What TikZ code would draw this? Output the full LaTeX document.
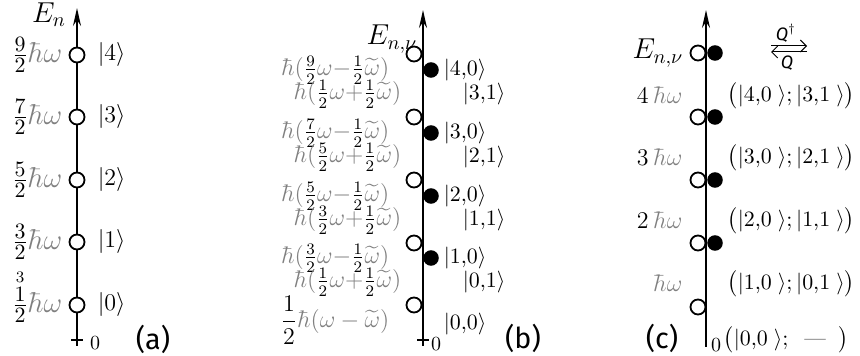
\documentclass[tikz,border=0pt]{standalone}
\usepackage{amsmath}
\usepackage{fontspec}
\newfontfamily\tagfont{Fira Sans}
\usetikzlibrary{positioning,arrows.meta}
\tikzset{every picture/.style={line width=0.75pt}}
\newcommand{\gr}[1]{\textcolor{black!50}{#1}}
\tikzset{
  axis/.style={->, line width=1pt},
  open/.style={circle, draw, fill=white, inner sep=0pt, minimum size=7.5pt, line width=0.9pt},
  full/.style={circle, draw, fill=black, inner sep=0pt, minimum size=7pt},
  lvl/.style={anchor=east, font=\large, inner sep=0pt},
  ket/.style={anchor=west, inner sep=0pt, font=\fontsize{11}{13}\selectfont},
  pair/.style={anchor=west, inner sep=0pt, font=\fontsize{11}{13}\selectfont},
  tag/.style={font=\tagfont\Large},
}

\begin{document}
\begin{tikzpicture}[>={Stealth[length=9pt, width=4pt, inset=3pt]}, x=0.5pt, y=-0.5pt]
    \useasboundingbox (0,0) rectangle (860,356);
    % (a) oscilador
    \coordinate (a0) at (77,346);
    \coordinate (aT) at (77,8);
    \draw[axis] (a0) -- (aT);
    \draw (71,340) -- (83,340);
    \node[open] (a4) at (77,55)  {};
    \node[open] (a3) at (77,117) {};
    \node[open] (a2) at (77,180) {};
    \node[open] (a1) at (77,242) {};
    \node[open] (a0c) at (77,305) {};
    \node at (49,15) {\Large $E_n$};
    \node[lvl, font=\fontsize{15}{17}\selectfont] at (63,55)  {$\tfrac92\gr{\hbar\omega}$};
    \node[lvl, font=\fontsize{15}{17}\selectfont] at (63,117) {$\tfrac72\gr{\hbar\omega}$};
    \node[lvl, font=\fontsize{15}{17}\selectfont] at (63,180) {$\tfrac52\gr{\hbar\omega}$};
    \node[lvl, font=\fontsize{15}{17}\selectfont] at (63,242) {$\tfrac32\gr{\hbar\omega}$};
    \node[lvl, font=\fontsize{15}{17}\selectfont] at (63,305) {$\tfrac12\gr{\hbar\omega}$};
    \node[font=\footnotesize] at (20,277) {3};
    \node[ket, font=\large] at (97,55)  {$|4\rangle$};
    \node[ket, font=\large] at (97,117) {$|3\rangle$};
    \node[ket, font=\large] at (97,180) {$|2\rangle$};
    \node[ket, font=\large] at (97,242) {$|1\rangle$};
    \node[ket, font=\large] at (97,305) {$|0\rangle$};
    \node at (95,343) {0};
    \node[tag] at (153,339) {(a)};
    % (b) niveis desdobrados
    \coordinate (b0) at (423,346);
    \coordinate (bT) at (423,10);
    \draw[axis] (b0) -- (bT);
    \draw (417,340) -- (429,340);
    \node[open] (bo4) at (414,54)  {};
    \node[open] (bo3) at (414,117) {};
    \node[open] (bo2) at (414,180) {};
    \node[open] (bo1) at (414,243) {};
    \node[open] (bo0) at (414,305) {};
    \node[full] (bf4) at (431,70)  {};
    \node[full] (bf3) at (431,133) {};
    \node[full] (bf2) at (431,196) {};
    \node[full] (bf1) at (431,258) {};
    \node at (392,39) {\Large $E_{n,\nu}$};
    \node[lvl] at (390,70)  {$\gr{\hbar(}\tfrac92\gr{\omega-}\tfrac12\gr{\widetilde\omega)}$};
    \node[lvl] at (402,94)  {$\gr{\hbar(}\tfrac12\gr{\omega+}\tfrac12\gr{\widetilde\omega)}$};
    \node[lvl] at (390,133) {$\gr{\hbar(}\tfrac72\gr{\omega-}\tfrac12\gr{\widetilde\omega)}$};
    \node[lvl] at (402,157) {$\gr{\hbar(}\tfrac52\gr{\omega+}\tfrac12\gr{\widetilde\omega)}$};
    \node[lvl] at (390,196) {$\gr{\hbar(}\tfrac52\gr{\omega-}\tfrac12\gr{\widetilde\omega)}$};
    \node[lvl] at (402,220) {$\gr{\hbar(}\tfrac32\gr{\omega+}\tfrac12\gr{\widetilde\omega)}$};
    \node[lvl] at (390,258) {$\gr{\hbar(}\tfrac32\gr{\omega-}\tfrac12\gr{\widetilde\omega)}$};
    \node[lvl] at (402,282) {$\gr{\hbar(}\tfrac12\gr{\omega+}\tfrac12\gr{\widetilde\omega)}$};
    \node[lvl] at (390,320) {$\dfrac12\gr{\hbar(\omega-\widetilde\omega)}$};
    \node[ket] at (443,70)  {$|4{,}0\rangle$};
    \node[ket] at (462,94)  {$|3{,}1\rangle$};
    \node[ket] at (443,133) {$|3{,}0\rangle$};
    \node[ket] at (462,157) {$|2{,}1\rangle$};
    \node[ket] at (443,196) {$|2{,}0\rangle$};
    \node[ket] at (462,220) {$|1{,}1\rangle$};
    \node[ket] at (443,258) {$|1{,}0\rangle$};
    \node[ket] at (462,282) {$|0{,}1\rangle$};
    \node[ket] at (443,324) {$|0{,}0\rangle$};
    \node at (436,344) {0};
    \node[tag] at (523,338) {(b)};
    % (c) pares supersimetricos
    \coordinate (c0) at (706,347);
    \coordinate (cT) at (706,10);
    \draw[axis] (c0) -- (cT);
    \node[open] (co4) at (698,53)  {};
    \node[open] (co3) at (698,117) {};
    \node[open] (co2) at (698,180) {};
    \node[open] (co1) at (698,243) {};
    \node[open] (co0) at (698,307) {};
    \node[full] (cf4) at (715,53)  {};
    \node[full] (cf3) at (715,117) {};
    \node[full] (cf2) at (715,180) {};
    \node[full] (cf1) at (715,243) {};
    \node[lvl, font=\Large] at (684,53) {$E_{n,\nu}$};
    \node[lvl, font=\fontsize{13}{15}\selectfont] at (683,95)  {$4\,\gr{\hbar\omega}$};
    \node[lvl, font=\fontsize{13}{15}\selectfont] at (683,157) {$3\,\gr{\hbar\omega}$};
    \node[lvl, font=\fontsize{13}{15}\selectfont] at (683,220) {$2\,\gr{\hbar\omega}$};
    \node[lvl, font=\fontsize{13}{15}\selectfont] at (683,283) {$\gr{\hbar\omega}$};
    \node[pair] at (727,96)  {$\bigl(|4{,}0\;\rangle;|3{,}1\;\rangle\bigr)$};
    \node[pair] at (727,158) {$\bigl(|3{,}0\;\rangle;|2{,}1\;\rangle\bigr)$};
    \node[pair] at (727,221) {$\bigl(|2{,}0\;\rangle;|1{,}1\;\rangle\bigr)$};
    \node[pair] at (727,284) {$\bigl(|1{,}0\;\rangle;|0{,}1\;\rangle\bigr)$};
    \node[pair] (c00) at (723,340) {$\bigl(|0{,}0\;\rangle;\;\;\text{---}\;\;\bigr)$};
    \node at (716,345) {0};
    \node[tag] at (662,338) {(c)};
    % operadores Q
    \coordinate (qL) at (771,46);
    \coordinate (qR) at (807,46);
    \coordinate (qL2) at (771,52);
    \coordinate (qR2) at (807,52);
    \draw[-{Straight Barb[length=3pt]}, line width=0.5pt] (qL) -- (qR);
    \draw[-{Straight Barb[length=3pt]}, line width=0.5pt] (qR2) -- (qL2);
    \node[font=\small\tagfont\itshape] at (786,33) {Q$^\dagger$};
    \node[font=\small\tagfont\itshape] at (787,63) {Q};
\end{tikzpicture}
\end{document}
